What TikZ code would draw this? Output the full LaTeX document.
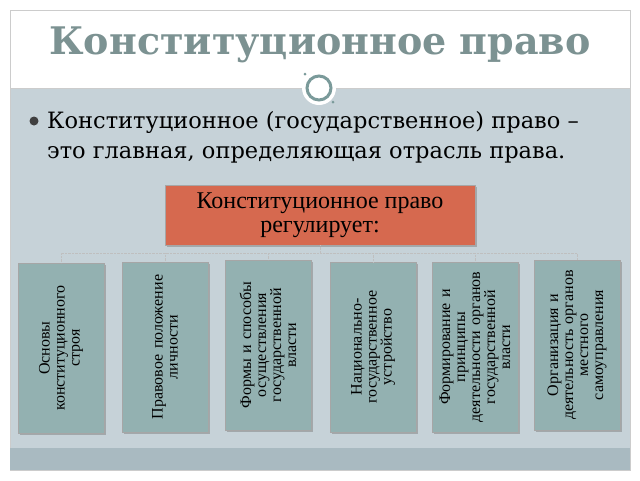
\documentclass[tikz,border=0pt]{standalone}
\usepackage{fontspec}
\setmainfont{Liberation Serif}
\newfontfamily\dejaserif{DejaVu Serif}
\usetikzlibrary{shadows}
\definecolor{bandgray}{HTML}{C6D2D8}
\definecolor{darkband}{HTML}{A9BAC1}
\definecolor{titlegray}{HTML}{7C9292}
\definecolor{ringgray}{HTML}{7A9A9A}
\definecolor{redbox}{HTML}{D6694F}
\definecolor{tealbox}{HTML}{93B1B1}
\tikzset{
    topicbox/.style={draw=gray!70, fill=tealbox, minimum width=86pt, minimum height=170pt,
        inner sep=0pt, drop shadow},
    topictext/.style={rotate=90, align=center, text width=165pt, font=\fontsize{16}{15}\selectfont},
    link/.style={draw=gray!50, densely dotted, thin}
}
\begin{document}
\begin{tikzpicture}[x=1pt, y=-1pt]
    \useasboundingbox (0,0) rectangle (640,480);
    \fill[white] (0,0) rectangle (640,480);
    \draw[gray!40, fill=bandgray] (10,88) rectangle (630,470);
    \draw[gray!40] (10,10) rectangle (630,88);
    \fill[darkband] (10,448) rectangle (630,470);
    \fill[white] (319,88) circle (17pt);
    \draw[ringgray, line width=3pt] (319,88) circle (12pt);
    \fill[ringgray] (305,74) circle (1.5pt) (333,102) circle (1.5pt);

    \node (title) at (320,45) [text=titlegray, font=\dejaserif\bfseries\fontsize{38}{40}\selectfont] {Конституционное право};
    \node (dot) at (34,121) [circle, fill=black!75, minimum size=9pt, inner sep=0pt] {};
    \node (intro) [anchor=north west, align=left, inner sep=0pt,
        font=\dejaserif\fontsize{22.5}{30}\selectfont] at (47,111)
        {Конституционное (государственное) право –\\это главная, определяющая отрасль права.};

    \node (main) at (320,215) [draw=gray!70, fill=redbox, minimum width=310pt, minimum height=60pt,
        align=center, font=\fontsize{24}{24}\selectfont, drop shadow] {Конституционное право\\регулирует:};

    \node (a) at (61,348) [topicbox] {};
    \node at (a) [topictext] {Основы\\конституционного\\строя};
    \node (b) at (165,347) [topicbox] {};
    \node at (b) [topictext] {Правовое положение\\личности};
    \node (c) at (268,345) [topicbox] {};
    \node at (c) [topictext] {Формы и способы\\осуществления\\государственной\\власти};
    \node (d) at (373,347) [topicbox] {};
    \node at (d) [topictext] {Национально-\\государственное\\устройство};
    \node (e) at (475,347) [topicbox] {};
    \node at (e) [topictext] {Формирование и\\принципы\\деятельности органов\\государственной\\власти};
    \node (f) at (577,345) [topicbox] {};
    \node at (f) [topictext] {Организация и\\деятельность органов\\местного\\самоуправления};

    \coordinate (hub) at (320,253);
    \draw[link] (main.south) -- (hub);
    \foreach \n in {a,b,c,d,e,f}
        \draw[link] (hub) -| (\n.north);
\end{tikzpicture}
\end{document}
